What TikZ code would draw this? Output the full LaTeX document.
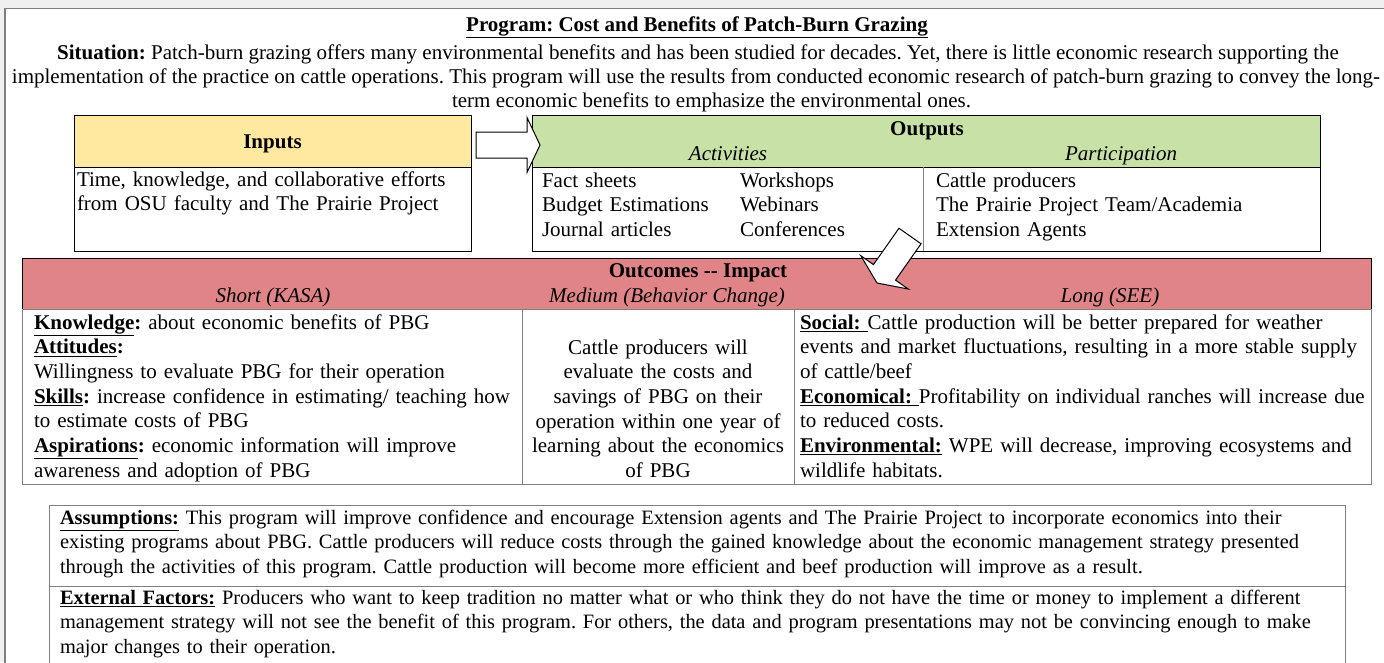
\documentclass[tikz,border=0pt]{standalone}
\usepackage{fontspec}
\setmainfont{Liberation Serif}
\frenchspacing
\usetikzlibrary{fit}
\definecolor{bggray}{HTML}{F0F0F0}
\definecolor{framegray}{HTML}{7F7F7F}
\definecolor{linegray}{HTML}{808080}
\definecolor{inyellow}{HTML}{FFE8A0}
\definecolor{outgreen}{HTML}{C7E1A6}
\definecolor{outred}{HTML}{E08487}
\tikzset{
  txt/.style={inner sep=0pt, outer sep=0pt, font=\fontsize{15.75pt}{18.5pt}\selectfont},
  leftlines/.style={txt, anchor=base west, align=left, text width=1000pt},
  smalllines/.style={leftlines, font=\fontsize{15.3pt}{18.5pt}\selectfont},
  centerlines/.style={txt, anchor=base, align=center, text width=#1},
  boxpart/.style={inner sep=0pt, outer sep=0pt, draw=black, line width=0.75pt},
  grayline/.style={draw=linegray, line width=0.75pt},
  blockarrow/.style={draw=black, fill=white, line width=0.75pt, line join=miter}
}
\begin{document}
\begin{tikzpicture}[x=0.75pt,y=-0.75pt]
\clip (0,0) rectangle (1384,662);
\fill[bggray] (0,0) rectangle (1384,662);
\draw[framegray, line width=1.1pt, fill=white] (5,8.5) rectangle (1400,700);

% title and situation
\node[txt, anchor=base] (title) at (697,31) {\underline{\textbf{Program: Cost and Benefits of Patch-Burn Grazing}}};
\node[txt, anchor=base] (sit1) at (698,59) {\textbf{Situation:} Patch-burn grazing offers many environmental benefits and has been studied for decades. Yet, there is little economic research supporting the};
\node[txt, anchor=base] (sit2) at (696,83) {implementation of the practice on cattle operations. This program will use the results from conducted economic research of patch-burn grazing to convey the long-};
\node[txt, anchor=base west] (sit3) at (452,107) {term economic benefits to emphasize the environmental ones.};

% inputs
\node[boxpart, fill=inyellow, fit={(74,115) (471,167)}] (inhead) {};
\node[boxpart, fill=white, fit={(74,167) (471,251)}] (inbody) {};
\node[txt, anchor=base] (intitle) at (272.5,148) {\textbf{Inputs}};
\node[leftlines] (intext) at (77,186) {Time, knowledge, and collaborative efforts\\from OSU faculty and The Prairie Project};

% outputs
\node[boxpart, fill=outgreen, fit={(532,115) (1320,167)}] (outhead) {};
\node[boxpart, fill=white, fit={(532,167) (1320,251)}] (outbody) {};
\coordinate (odtop) at (923,167);
\coordinate (odbot) at (923,251);
\draw[grayline] (odtop) -- (odbot);
\node[txt, anchor=base] (outtitle) at (927,135) {\textbf{Outputs}};
\node[txt, anchor=base] (acttitle) at (728,160) {\textit{Activities}};
\node[txt, anchor=base] (parttitle) at (1121,160) {\textit{Participation}};
\node[leftlines] (act1) at (542,187) {Fact sheets\\Budget Estimations\\Journal articles};
\node[leftlines] (act2) at (740,187) {Workshops\\Webinars\\Conferences};
\node[leftlines] (part) at (936,187) {Cattle producers\\The Prairie Project Team/Academia\\Extension Agents};

% outcomes
\node[boxpart, fill=outred, fit={(22,258) (1371,309)}] (ochead) {};
\node[boxpart, draw=linegray, fill=white, fit={(22,309) (1371,484)}] (ocbody) {};
\coordinate (d1top) at (522,309);
\coordinate (d1bot) at (522,484);
\coordinate (d2top) at (794,309);
\coordinate (d2bot) at (794,484);
\draw[grayline] (d1top) -- (d1bot);
\draw[grayline] (d2top) -- (d2bot);
\node[txt, anchor=base] (octitle) at (698,277) {\textbf{Outcomes -{}- Impact}};
\node[txt, anchor=base] (shorttitle) at (273,302) {\textit{Short (KASA)}};
\node[txt, anchor=base] (medtitle) at (667,302) {\textit{Medium (Behavior Change)}};
\node[txt, anchor=base] (longtitle) at (1110,302) {\textit{Long (SEE)}};
\node[leftlines] (shorttext) at (34,329) {\underline{\textbf{Knowledge}}\textbf{:} about economic benefits of PBG\\
\underline{\textbf{Attitudes}}\textbf{:}\\
Willingness to evaluate PBG for their operation\\
\underline{\textbf{Skills}}\textbf{:} increase confidence in estimating/ teaching how\\
to estimate costs of PBG\\
\underline{\textbf{Aspirations}}\textbf{:} economic information will improve\\
awareness and adoption of PBG};
\node[centerlines=260pt] (medtext) at (658,354) {Cattle producers will\\evaluate the costs and\\savings of PBG on their\\operation within one year of\\learning about the economics\\of PBG};
\node[leftlines] (longtext) at (800,329) {\underline{\textbf{Social:}\ }Cattle production will be better prepared for weather\\
events and market fluctuations, resulting in a more stable supply\\
of cattle/beef\\
\underline{\textbf{Economical:}\ }Profitability on individual ranches will increase due\\
to reduced costs.\\
\underline{\textbf{Environmental:}} WPE will decrease, improving ecosystems and\\
wildlife habitats.};

% assumptions / external factors
\node[boxpart, draw=linegray, fill=white, fit={(49,505) (1345,700)}] (assbox) {};
\coordinate (asl) at (49,586);
\coordinate (asr) at (1345,586);
\draw[grayline] (asl) -- (asr);
\node[smalllines] (asstext) at (60,524) {\underline{\textbf{Assumptions:}} This program will improve confidence and encourage Extension agents and The Prairie Project to incorporate economics into their\\
existing programs about PBG. Cattle producers will reduce costs through the gained knowledge about the economic management strategy presented\\
through the activities of this program. Cattle production will become more efficient and beef production will improve as a result.};
\node[smalllines] (exttext) at (60,604) {\underline{\textbf{External Factors:}} Producers who want to keep tradition no matter what or who think they do not have the time or money to implement a different\\
management strategy will not see the benefit of this program. For others, the data and program presentations may not be convincing enough to make\\
major changes to their operation.};

% block arrows
\begin{scope}[shift={(508,145)}]
\draw[blockarrow] (-32,-13) -- (19,-13) -- (19,-27.5) -- (32,0) -- (19,27.5) -- (19,13) -- (-32,13) -- cycle;
\end{scope}
\begin{scope}[shift={(893.5,259.5)}, rotate=-125.1]
\draw[blockarrow] (-28.7,-13.5) -- (15.7,-13.5) -- (15.7,-29) -- (28.7,0) -- (15.7,29) -- (15.7,13.5) -- (-28.7,13.5) -- cycle;
\end{scope}
\end{tikzpicture}
\end{document}
